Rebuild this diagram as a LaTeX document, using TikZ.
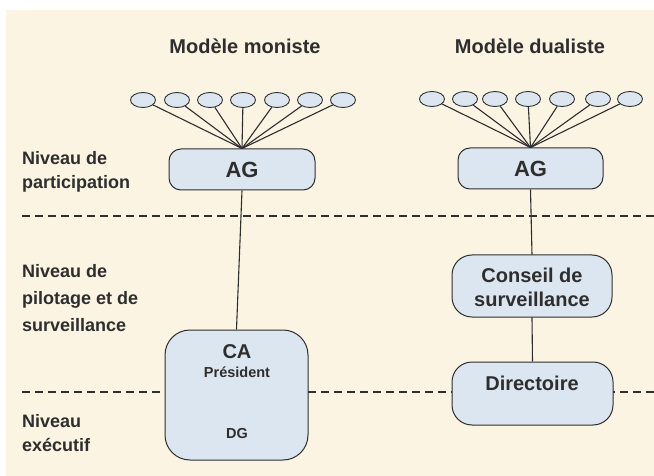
\documentclass[tikz,border=0pt]{standalone}
\usepackage{fontspec}
\setmainfont{Liberation Sans}
\usetikzlibrary{shapes.geometric}
\definecolor{bg}{HTML}{FBF4E2}
\definecolor{boxfill}{HTML}{DCE6F0}
\definecolor{ink}{HTML}{2E2E2E}
\begin{document}
\begin{tikzpicture}[x=1pt,y=-1pt,
  box/.style={draw=ink, fill=boxfill, line width=1pt, rounded corners=12pt, inner sep=0pt},
  ell/.style={ellipse, draw=ink, fill=boxfill, line width=0.9pt, minimum width=25pt, minimum height=15pt, inner sep=0pt},
  conn/.style={draw=ink, line width=1.1pt},
  level/.style={draw=ink, line width=2pt, dash pattern=on 8pt off 5pt},
  lbl/.style={font=\bfseries\fontsize{18}{22}\selectfont, anchor=base west, inner sep=0pt, text=ink},
  ttl/.style={font=\bfseries\fontsize{20}{24}\selectfont, anchor=base, inner sep=0pt, text=ink},
  btxt/.style={font=\bfseries\fontsize{20}{23}\selectfont, anchor=base, inner sep=0pt, text=ink},
  agtxt/.style={font=\bfseries\fontsize{22}{24}\selectfont, anchor=base, inner sep=0pt, text=ink},
  stxt/.style={font=\bfseries\fontsize{14.5}{17}\selectfont, anchor=base, inner sep=0pt, text=ink}]
\useasboundingbox (0,0) rectangle (654,476);
\fill[bg] (6,10) rectangle (654,476);
% titles
\node[ttl] (t1) at (245,54) {Modèle moniste};
\node[ttl] (t2) at (530,54) {Modèle dualiste};
% level labels
\node[lbl] (l1a) at (22,165) {Niveau de};
\node[lbl] (l1b) at (22,189) {participation};
\node[lbl] (l2a) at (22,277) {Niveau de};
\node[lbl] (l2b) at (22,304) {pilotage et de};
\node[lbl] (l2c) at (22,331) {surveillance};
\node[lbl] (l3a) at (22,427) {Niveau};
\node[lbl] (l3b) at (22,451) {exécutif};
% dashed level separators
\coordinate (d1a) at (22,216); \coordinate (d1b) at (654,216);
\coordinate (d2a) at (22,392); \coordinate (d2b) at (654,392);
\draw[level] (d1a) -- (d1b);
\draw[level] (d2a) -- (d2b);
% boxes
\node[box, minimum width=146pt, minimum height=41pt] (agL) at (242,169.5) {};
\node[box, minimum width=145pt, minimum height=41pt] (agR) at (530.5,168.5) {};
\node[box, rounded corners=25pt, minimum width=143pt, minimum height=130pt] (ca) at (236.5,395) {};
\node[box, rounded corners=20pt, minimum width=160pt, minimum height=62pt] (cs) at (532,286) {};
\node[box, rounded corners=20pt, minimum width=161pt, minimum height=63pt] (dir) at (532.5,393.5) {};
% connectors
\draw[conn] (agL.south) -- (ca.north);
\draw[conn] (agR.south) -- (cs.north);
\draw[conn] (cs.south) -- (dir.north);
% shareholders
\foreach \i/\x in {1/143,2/177,3/210,4/243,5/277,6/310,7/343}{
  \node[ell] (eL\i) at (\x,100) {};
  \draw[conn] (eL\i) -- (agL.north);
}
\foreach \i/\x in {1/432,2/465,3/495,4/528,5/562,6/598,7/630}{
  \node[ell] (eR\i) at (\x,99) {};
  \draw[conn] (eR\i) -- (agR.north);
}
% box texts
\node[agtxt] (agLt) at (242,178) {AG};
\node[agtxt] (agRt) at (530.5,177) {AG};
\node[btxt] (cat) at (237,358) {CA};
\node[stxt] (pres) at (237,377) {Président};
\node[stxt] (dg) at (237,438) {DG};
\node[btxt] (cst1) at (532,283) {Conseil de};
\node[btxt] (cst2) at (532,306) {surveillance};
\node[btxt] (dirt) at (532,390) {Directoire};
\end{tikzpicture}
\end{document}
